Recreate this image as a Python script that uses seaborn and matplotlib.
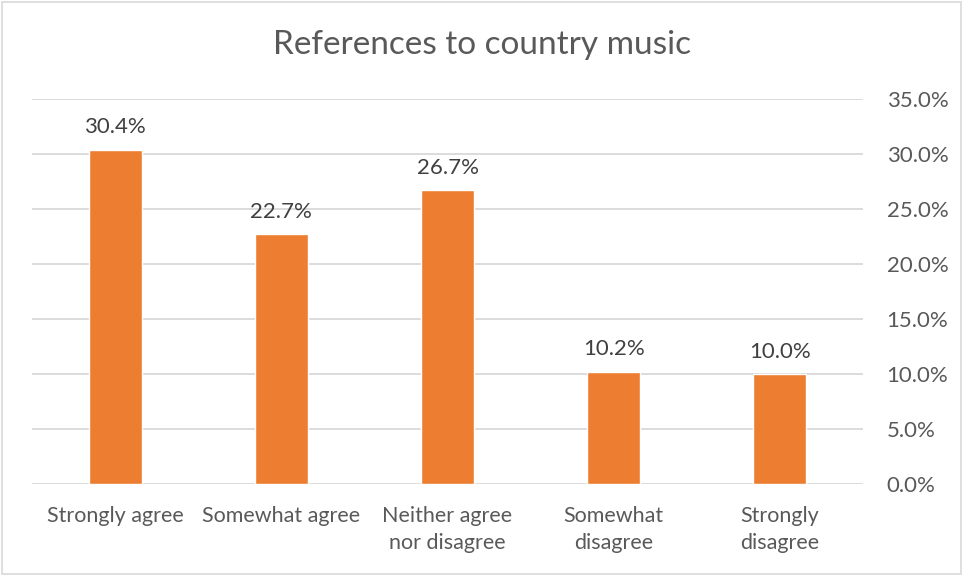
import matplotlib
matplotlib.use("Agg")
import matplotlib.pyplot as plt
import seaborn as sns
import pandas as pd
from matplotlib.ticker import FuncFormatter, MultipleLocator
from matplotlib.patches import Rectangle

categories = ["Strongly agree", "Somewhat agree", "Neither agree\nnor disagree",
              "Somewhat\ndisagree", "Strongly\ndisagree"]
values = [30.4, 22.7, 26.7, 10.2, 10.0]
title = "References to country music"

sns.set_theme(style="white")
plt.rcParams['font.family'] = ['Lato', 'DejaVu Sans']

TXT = "#595959"
df = pd.DataFrame({"cat": categories, "val": values})

fig = plt.figure(figsize=(9.63, 5.75), dpi=100)
ax = fig.add_axes([32/963, 1-484/575, (863-32)/963, (484-99)/575])
sns.barplot(data=df, x="cat", y="val", color="#ED7D31", width=0.32,
            saturation=1, ax=ax, zorder=3)

ax.set_ylim(0, 35)
ax.yaxis.set_major_locator(MultipleLocator(5))
ax.yaxis.set_major_formatter(FuncFormatter(lambda v, p: f"{v:.1f}%"))
ax.yaxis.tick_right()
ax.grid(axis="y", color="#D9D9D9", linewidth=1.3, zorder=0)
ax.set_axisbelow(True)
for s in ax.spines.values():
    s.set_visible(False)
ax.tick_params(axis="y", length=0, pad=17, labelsize=16, labelcolor=TXT)
ax.tick_params(axis="x", length=0, pad=16, labelsize=15.5, labelcolor=TXT)
for lbl in ax.get_xticklabels():
    lbl.set_linespacing(1.45)
ax.set_xlabel("")
ax.set_ylabel("")
ax.set_xlim(-0.5, len(categories) - 0.5)

for i, v in enumerate(values):
    ax.annotate(f"{v:.1f}%", (i, v), xytext=(0, 9), textcoords="offset points",
                ha="center", va="bottom", fontsize=16, color="#404040")

fig.text(0.5, 1-45/575, title, ha="center", va="center", fontsize=24, color=TXT)
fig.patches.append(Rectangle((2/963, 1/575), 959/963, 572/575, transform=fig.transFigure,
                             fill=False, edgecolor="#D9D9D9", linewidth=1.2))

fig.savefig("out.png", dpi=100)
